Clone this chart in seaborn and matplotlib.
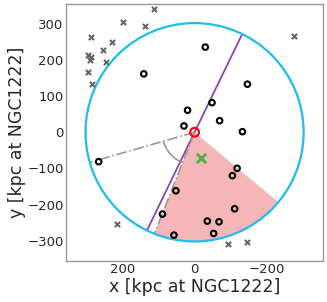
import matplotlib as mpl
mpl.use('agg')
import matplotlib.pyplot as plt
from matplotlib.patches import Circle, Wedge, Arc
import numpy as np
import pandas as pd
import seaborn as sns

# members inside the circle (x, y in kpc)
in_x = [-29.7, 140.6, -146.4, -48.3, 19.4, -69.4, 29.4, -132.5, 265.6, -117.8,
        -104.7, 51.7, -111.0, 88.9, -35.3, -67.8, -52.8, 57.2]
in_y = [235.5, 161.5, 133.0, 82.0, 61.0, 32.0, 17.5, 1.7, -81.4, -99.7,
        -120.0, -161.8, -211.6, -226.3, -245.7, -247.6, -279.8, -284.5]

# galaxies outside
out_x = [296.1, 286.9, 289.7, 295.3, 284.2, 252.8, 244.4, 229.4, 286.1, 197.2,
         137.8, 111.9, -275.0, 213.9, -92.8, -146.4]
out_y = [214.1, 209.4, 199.4, 167.0, 133.8, 227.1, 194.7, 251.0, 263.2, 304.7,
         293.6, 340.7, 265.0, -254.8, -310.0, -304.7]

center = (0, 0)
centroid = (-18.6, -72.0)
radius = 302
axis_angle = 115.9        # purple line direction (deg)
wedge_from, wedge_to = 219.8, 291.6
ref_angle = -16.0         # dash-dot reference line

df_in = pd.DataFrame({'x': in_x, 'y': in_y})
df_out = pd.DataFrame({'x': out_x, 'y': out_y})

sns.set_style('white')
fig = plt.figure(figsize=(3.27, 3.02), dpi=100)
ax = fig.add_axes([0.203, 0.137, 0.784, 0.85])

ax.add_patch(Wedge(center, radius, wedge_from, wedge_to, facecolor='#f4b6b6',
                   edgecolor='none', zorder=1))
ax.add_patch(Circle(center, radius, fill=False, edgecolor='#1ebcf0', lw=1.6, zorder=3))

t = np.deg2rad(axis_angle)
ax.plot([-radius * np.cos(t), radius * np.cos(t)], [-radius * np.sin(t), radius * np.sin(t)],
        color='#8e44ad', lw=1.3, zorder=2)

for a in [ref_angle, wedge_to]:
    r = np.deg2rad(a)
    ax.plot([0, radius * np.cos(r)], [0, radius * np.sin(r)], color='#999999',
            lw=1.2, ls='-.', zorder=2)
ax.add_patch(Arc(center, 180, 180, theta1=wedge_to - 360, theta2=ref_angle,
                 color='#999999', lw=1.2, zorder=2))

sns.scatterplot(data=df_out, x='x', y='y', marker='x', color='#666666', s=14,
                linewidth=1.5, ax=ax, zorder=4)
sns.scatterplot(data=df_in, x='x', y='y', marker='o', facecolor='none',
                edgecolor='black', s=16, linewidth=1.5, ax=ax, zorder=4)
ax.scatter([center[0]], [center[1]], s=40, facecolor='none', edgecolor='red',
           linewidth=1.5, zorder=5)
ax.scatter([centroid[0]], [centroid[1]], s=45, marker='x', color='#4daf4a',
           linewidth=2, zorder=5)

ax.set_xlim(355, -355)
ax.set_ylim(-355, 355)
ax.set_xticks([200, 0, -200])
ax.set_yticks([-300, -200, -100, 0, 100, 200, 300])
ax.tick_params(labelsize=9.5, length=0, pad=2)
ax.set_xlabel('x [kpc at NGC1222]', fontsize=12.5, labelpad=1)
ax.set_ylabel('y [kpc at NGC1222]', fontsize=12.5, labelpad=1)
for s in ax.spines.values():
    s.set_color('#999999')
    s.set_linewidth(1)

plt.savefig('out.png', dpi=100)
